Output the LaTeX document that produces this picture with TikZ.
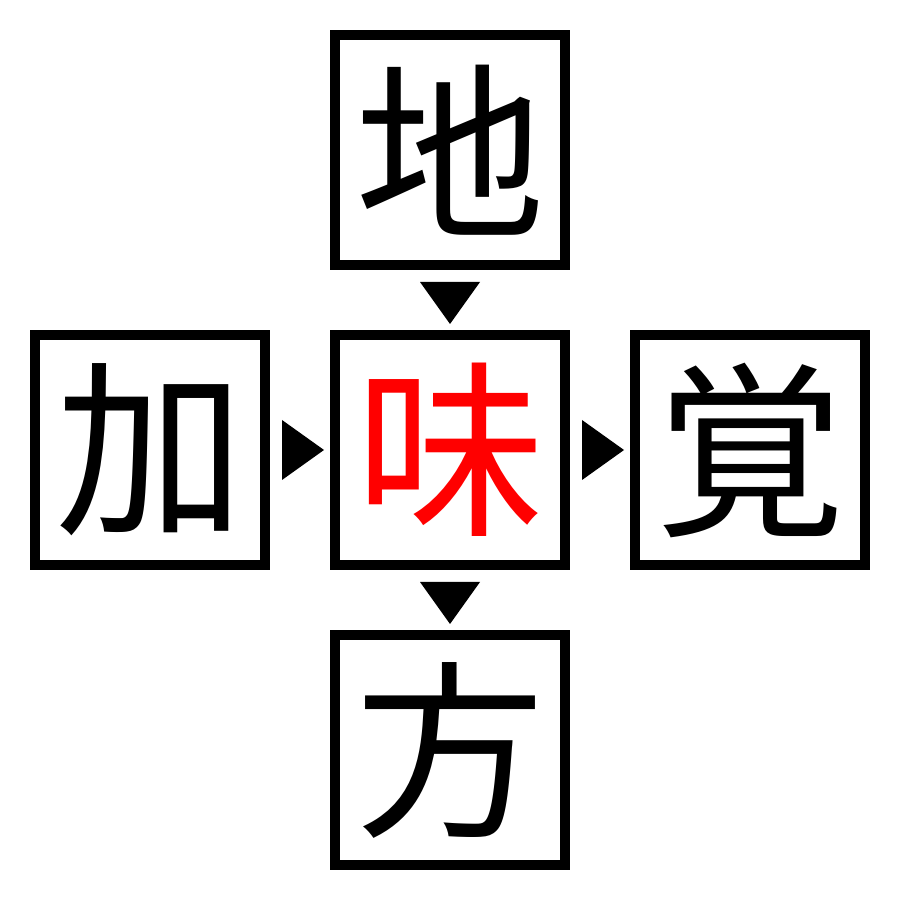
\documentclass[tikz,border=0pt]{standalone}
\usepackage{fontspec}
\newfontfamily\cjk{Noto Sans CJK JP}
\usetikzlibrary{positioning, calc}

\begin{document}
\begin{tikzpicture}[
		char box/.style={draw, line width=1mm, minimum size=2.3cm, inner sep=0pt, font=\cjk\fontsize{54}{54}\selectfont},
		key char/.style={char box, text=red}
		]
		
		\useasboundingbox (0,0) rectangle (9,9);
		
		% ==========================================
		% 1. CHARACTER BOXES
		% ==========================================
		
		\node[key char] (mid) at (4.5,4.5) {味};
		\node[char box, above=0.6cm of mid] (top) {地};
		\node[char box, below=0.6cm of mid] (bot) {方};
		\node[char box, left=0.6cm of mid] (lft) {加};
		\node[char box, right=0.6cm of mid] (rgt) {覚};
		
		% ==========================================
		% 2. ARROW HEADS BETWEEN BOXES
		% ==========================================
		
		\foreach \a/\b/\r in {top/mid/0, mid/bot/0, lft/mid/90, mid/rgt/90} {
			\coordinate (gap) at ($(\a)!0.5!(\b)$);
			\fill[shift={(gap)}, rotate=\r] (-0.3,0.18) -- (0.3,0.18) -- (0,-0.24) -- cycle;
		}
		
	\end{tikzpicture}
\end{document}
